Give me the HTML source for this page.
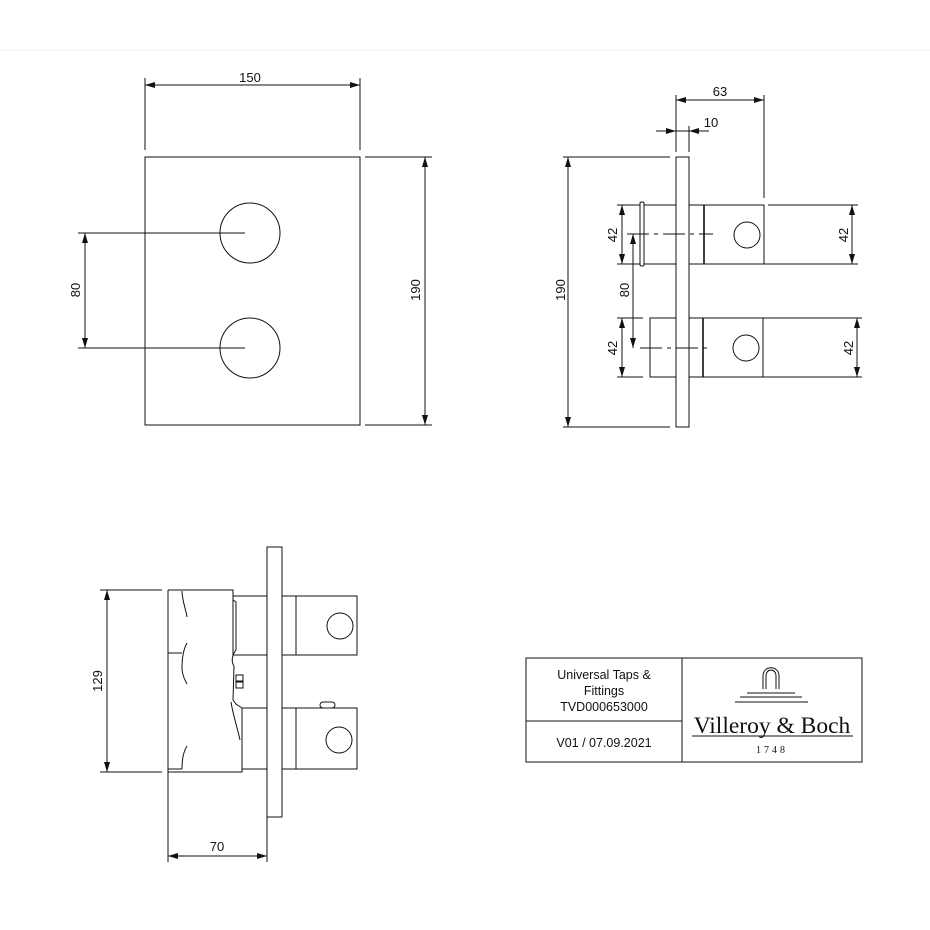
<!DOCTYPE html>
<html><head><meta charset="utf-8"><style>
html,body{margin:0;padding:0;background:#fff;}
svg{display:block;}
text{font-family:"Liberation Sans",sans-serif;font-size:13px;fill:#111;}
</style></head><body>
<svg width="930" height="930" viewBox="0 0 930 930" xmlns="http://www.w3.org/2000/svg">
<defs>
<marker id="a" markerWidth="10" markerHeight="6" refX="10" refY="3" orient="auto-start-reverse" markerUnits="userSpaceOnUse">
<path d="M0,0 L10,3 L0,6 z" fill="#111"/></marker>
</defs>
<line x1="0" y1="50" x2="930" y2="50" stroke="#f2f2f2" stroke-width="1"/>
<g stroke="#111" stroke-width="1" fill="none">
<!-- FRONT VIEW -->
<rect x="145" y="157" width="215" height="268"/>
<circle cx="250" cy="233" r="30"/>
<circle cx="250" cy="348" r="30"/>
<line x1="78" y1="233" x2="245" y2="233"/>
<line x1="78" y1="348" x2="245" y2="348"/>
<line x1="85" y1="233" x2="85" y2="348" marker-start="url(#a)" marker-end="url(#a)"/>
<line x1="145" y1="78" x2="145" y2="150"/>
<line x1="360" y1="78" x2="360" y2="150"/>
<line x1="145" y1="85" x2="360" y2="85" marker-start="url(#a)" marker-end="url(#a)"/>
<line x1="365" y1="157" x2="432" y2="157"/>
<line x1="365" y1="425" x2="432" y2="425"/>
<line x1="425" y1="157" x2="425" y2="425" marker-start="url(#a)" marker-end="url(#a)"/>

<!-- SIDE VIEW -->
<rect x="676" y="157" width="13" height="270"/>
<rect x="640" y="202" width="4" height="64" rx="1.5"/>
<rect x="644" y="205" width="32" height="59"/>
<line x1="689" y1="205" x2="704" y2="205"/><line x1="689" y1="264" x2="704" y2="264"/>
<line x1="704" y1="205" x2="704" y2="264" stroke-width="1.6"/>
<rect x="704" y="205" width="60" height="59"/>
<circle cx="747" cy="235" r="13"/>
<line x1="768" y1="205" x2="858" y2="205"/>
<line x1="764" y1="264" x2="858" y2="264"/>
<line x1="852" y1="205" x2="852" y2="264" marker-start="url(#a)" marker-end="url(#a)"/>
<rect x="650" y="318" width="26" height="59"/>
<line x1="689" y1="318" x2="703" y2="318"/><line x1="689" y1="377" x2="703" y2="377"/>
<line x1="703" y1="318" x2="703" y2="377" stroke-width="1.6"/>
<rect x="703" y="318" width="60" height="59"/>
<circle cx="746" cy="348" r="13"/>
<line x1="763" y1="318" x2="862" y2="318"/>
<line x1="763" y1="377" x2="862" y2="377"/>
<line x1="857" y1="318" x2="857" y2="377" marker-start="url(#a)" marker-end="url(#a)"/>
<line x1="627" y1="234" x2="713" y2="234" stroke-dasharray="22,5,4,5"/>
<line x1="640" y1="348" x2="712" y2="348" stroke-dasharray="22,5,4,5"/>
<line x1="617" y1="205" x2="640" y2="205"/><line x1="617" y1="264" x2="640" y2="264"/>
<line x1="622" y1="205" x2="622" y2="264" marker-start="url(#a)" marker-end="url(#a)"/>
<line x1="633" y1="234" x2="633" y2="348" marker-start="url(#a)" marker-end="url(#a)"/>
<line x1="617" y1="318" x2="643" y2="318"/><line x1="617" y1="377" x2="643" y2="377"/>
<line x1="622" y1="318" x2="622" y2="377" marker-start="url(#a)" marker-end="url(#a)"/>
<line x1="563" y1="157" x2="670" y2="157"/><line x1="563" y1="427" x2="670" y2="427"/>
<line x1="568" y1="157" x2="568" y2="427" marker-start="url(#a)" marker-end="url(#a)"/>
<line x1="676" y1="95" x2="676" y2="152"/>
<line x1="764" y1="95" x2="764" y2="198"/>
<line x1="676" y1="100" x2="764" y2="100" marker-start="url(#a)" marker-end="url(#a)"/>
<line x1="689" y1="126" x2="689" y2="152"/>
<line x1="656" y1="131" x2="676" y2="131" marker-end="url(#a)"/>
<line x1="709" y1="131" x2="689" y2="131" marker-end="url(#a)"/>
<line x1="676" y1="131" x2="689" y2="131"/>

<!-- BOTTOM VIEW -->
<rect x="267" y="547" width="15" height="270"/>
<path d="M168,590 L233,590 L233,655 M168,590 L168,772 L242,772 L242,708"/>
<line x1="168" y1="653" x2="182" y2="653"/>
<line x1="168" y1="769" x2="182" y2="769"/>
<path d="M182,591 C182,600 186,610 187,617"/>
<path d="M187,643 C183,650 182,660 182,668 C182,675 185,680 187,684"/>
<path d="M187,746 C183,752 182,760 182,769"/>
<path d="M233,600 L236,602 L236,650 C232,655 231,662 234,666 L233,700 L236,704 L242,708"/>
<path d="M231,702 C233,715 238,730 240,740"/>
<rect x="236" y="675" width="7" height="6"/><rect x="236" y="682" width="7" height="6"/>
<rect x="233" y="596" width="34" height="59"/>
<rect x="282" y="596" width="14" height="59"/>
<rect x="296" y="596" width="61" height="59"/>
<circle cx="340" cy="626" r="13"/>
<rect x="242" y="708" width="25" height="61"/>
<rect x="282" y="708" width="14" height="61"/>
<rect x="296" y="708" width="61" height="61"/>
<rect x="320" y="702" width="15" height="6" rx="3"/>
<circle cx="339" cy="740" r="13"/>
<line x1="100" y1="590" x2="162" y2="590"/><line x1="100" y1="772" x2="162" y2="772"/>
<line x1="107" y1="590" x2="107" y2="772" marker-start="url(#a)" marker-end="url(#a)"/>
<line x1="168" y1="772" x2="168" y2="862"/>
<line x1="267" y1="817" x2="267" y2="862"/>
<line x1="168" y1="856" x2="267" y2="856" marker-start="url(#a)" marker-end="url(#a)"/>

<!-- TITLE BLOCK -->
<rect x="526" y="658" width="336" height="104"/>
<line x1="682" y1="658" x2="682" y2="762"/>
<line x1="526" y1="721" x2="682" y2="721"/>
<path d="M766,689 L766,676 C766,668 776,668 776,676 L776,689"/>
<path d="M763,689 L763,676 C763,665 779,665 779,676 L779,689"/>
<line x1="747" y1="693" x2="795" y2="693"/>
<line x1="740" y1="697" x2="802" y2="697"/>
<line x1="735" y1="702" x2="808" y2="702"/>
<line x1="692" y1="736" x2="853" y2="736"/>
</g>
<text x="250" y="82" text-anchor="middle">150</text>
<text transform="translate(80,290) rotate(-90)" text-anchor="middle">80</text>
<text transform="translate(420,290) rotate(-90)" text-anchor="middle">190</text>
<text x="720" y="96" text-anchor="middle">63</text>
<text x="711" y="127" text-anchor="middle">10</text>
<text transform="translate(617,235) rotate(-90)" text-anchor="middle">42</text>
<text transform="translate(629,290) rotate(-90)" text-anchor="middle">80</text>
<text transform="translate(617,348) rotate(-90)" text-anchor="middle">42</text>
<text transform="translate(848,235) rotate(-90)" text-anchor="middle">42</text>
<text transform="translate(853,348) rotate(-90)" text-anchor="middle">42</text>
<text transform="translate(565,290) rotate(-90)" text-anchor="middle">190</text>
<text transform="translate(102,681) rotate(-90)" text-anchor="middle">129</text>
<text x="217" y="851" text-anchor="middle">70</text>
<text x="604" y="679" text-anchor="middle" style="font-size:12.5px">Universal Taps &amp;</text>
<text x="604" y="695" text-anchor="middle" style="font-size:12.5px">Fittings</text>
<text x="604" y="711" text-anchor="middle" style="font-size:12.5px">TVD000653000</text>
<text x="604" y="747" text-anchor="middle" style="font-size:12.5px">V01 / 07.09.2021</text>
<text x="772" y="733" text-anchor="middle" style="font-family:'Liberation Serif',serif;font-size:23.5px">Villeroy &amp; Boch</text>
<text x="772" y="753" text-anchor="middle" style="font-family:'Liberation Serif',serif;font-size:10px;letter-spacing:3px">1748</text>
</svg>
</body></html>
